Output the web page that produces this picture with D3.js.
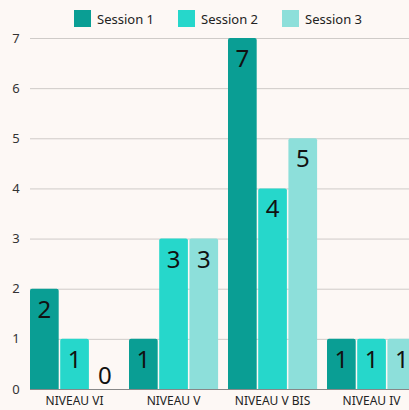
<!DOCTYPE html>
<html>
<head>
<meta charset="utf-8">
<script src="https://cdn.jsdelivr.net/npm/d3@7"></script>
<style>
  body { margin: 0; background: #fdf8f5; overflow: hidden; }
  svg { display: block; font-family: "Noto Sans", sans-serif; }
</style>
</head>
<body>
<svg id="chart"></svg>
<script>
var categories = ["NIVEAU VI", "NIVEAU V", "NIVEAU V BIS", "NIVEAU IV"];
var seriesNames = ["Session 1", "Session 2", "Session 3"];
var session1 = [2, 1, 7, 1];
var session2 = [1, 3, 4, 1];
var session3 = [0, 3, 5, 1];
var yTicks = [0, 1, 2, 3, 4, 5, 6, 7];
var colors = ["#0a9e94", "#26d7cb", "#8ddfda"];

var seriesValues = [session1, session2, session3];
var data = categories.map(function(c, i) {
  return {cat: c, values: seriesNames.map(function(s, j) { return {key: s, value: seriesValues[j][i]}; })};
});

var width = 409, height = 410;
var margin = {top: 38, left: 30, bottom: 21};

var svg = d3.select("#chart")
    .attr("width", width)
    .attr("height", height);

svg.append("rect").attr("width", width).attr("height", height).attr("fill", "#fdf8f5");

// the plot runs past the right edge, as in the original
var x0 = d3.scaleBand()
    .domain(categories)
    .range([margin.left, margin.left + 99 * 3.9])
    .paddingInner(0.1)
    .paddingOuter(0);

var x1 = d3.scaleBand()
    .domain(seriesNames)
    .range([0, x0.bandwidth()])
    .paddingInner(0.05);

var y = d3.scaleLinear()
    .domain([0, 7])
    .range([height - margin.bottom, margin.top]);

// grid
svg.append("g")
  .selectAll("line")
  .data(yTicks)
  .enter().append("line")
    .attr("x1", margin.left)
    .attr("x2", width)
    .attr("y1", function(d) { return y(d) + 0.5; })
    .attr("y2", function(d) { return y(d) + 0.5; })
    .attr("stroke", "#cfcbc8")
    .attr("stroke-width", 1);

svg.append("g")
  .selectAll("text")
  .data(yTicks)
  .enter().append("text")
    .attr("x", 16)
    .attr("y", function(d) { return y(d); })
    .attr("dy", "0.35em")
    .attr("text-anchor", "middle")
    .attr("font-size", 13)
    .attr("fill", "#333")
    .text(function(d) { return d; });

// baseline
svg.append("line")
    .attr("x1", margin.left).attr("x2", width)
    .attr("y1", y(0) + 0.5).attr("y2", y(0) + 0.5)
    .attr("stroke", "#888");

var group = svg.append("g")
  .selectAll("g")
  .data(data)
  .enter().append("g")
    .attr("transform", function(d) { return "translate(" + x0(d.cat) + ",0)"; });

group.selectAll("path")
  .data(function(d) { return d.values; })
  .enter().append("path")
    .attr("fill", function(d, i) { return colors[i]; })
    .attr("d", function(d) {
      var bx = x1(d.key), bw = x1.bandwidth(), top = y(d.value), h = y(0) - top, r = Math.min(2, h);
      if (h <= 0) return "";
      return "M" + bx + "," + y(0) +
        "V" + (top + r) + "Q" + bx + "," + top + " " + (bx + r) + "," + top +
        "H" + (bx + bw - r) + "Q" + (bx + bw) + "," + top + " " + (bx + bw) + "," + (top + r) +
        "V" + y(0) + "Z";
    });

group.selectAll("text")
  .data(function(d) { return d.values; })
  .enter().append("text")
    .attr("x", function(d) { return x1(d.key) + x1.bandwidth() / 2; })
    .attr("y", function(d) { return Math.min(y(d.value) + 29, y(0) - 5); })
    .attr("text-anchor", "middle")
    .attr("font-size", 24)
    .attr("fill", "#111")
    .text(function(d) { return d.value; });

// x labels
svg.append("g")
  .selectAll("text")
  .data(categories)
  .enter().append("text")
    .attr("x", function(d) { return x0(d) + x0.bandwidth() / 2; })
    .attr("y", 405)
    .attr("text-anchor", "middle")
    .attr("font-size", 12)
    .attr("fill", "#222")
    .text(function(d) { return d; });

// legend
var legendX = [74, 178, 282];
var legend = svg.append("g")
  .selectAll("g")
  .data(seriesNames)
  .enter().append("g")
    .attr("transform", function(d, i) { return "translate(" + legendX[i] + ",10)"; });

legend.append("rect")
    .attr("width", 17).attr("height", 17)
    .attr("fill", function(d, i) { return colors[i]; });

legend.append("text")
    .attr("x", 23)
    .attr("y", 9)
    .attr("dy", "0.35em")
    .attr("font-size", 13)
    .attr("fill", "#222")
    .text(function(d) { return d; });
</script>
</body>
</html>
